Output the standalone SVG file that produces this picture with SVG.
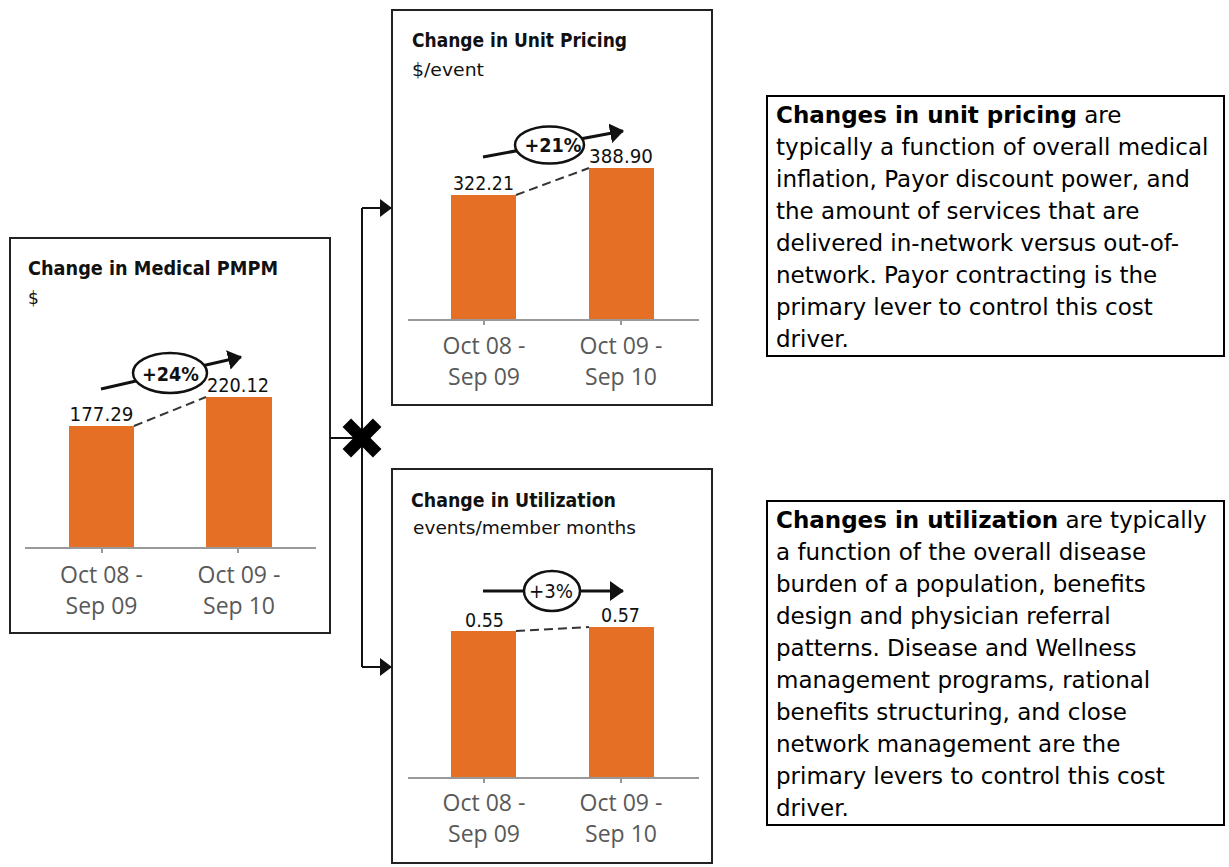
<svg xmlns="http://www.w3.org/2000/svg" width="1229" height="867" viewBox="0 0 1229 867">
<style>
.box{fill:#fff;stroke:#222;stroke-width:2}
.title{font-family:"DejaVu Sans",sans-serif;font-weight:bold;font-size:19.5px;fill:#111}
.sub{font-family:"DejaVu Sans",sans-serif;font-size:17px;fill:#111}
.bar{fill:#E56F24}
.axis{stroke:#999;stroke-width:2;fill:none}
.val{font-family:"DejaVu Sans",sans-serif;font-size:19.5px;fill:#111;text-anchor:middle}
.cat{font-family:"Open Sans",sans-serif;font-size:23px;fill:#595959;text-anchor:middle}
.dash{stroke:#333;stroke-width:2;stroke-dasharray:9 5;fill:none}
.trend{stroke:#111;stroke-width:3;fill:none}
.pill{fill:#fff;stroke:#111;stroke-width:2.5}
.pct{font-family:"DejaVu Sans",sans-serif;font-size:20px;fill:#111;text-anchor:middle}
.note{font-family:"DejaVu Sans",sans-serif;font-size:23px;fill:#000}
.nbox{fill:#fff;stroke:#000;stroke-width:2}
.conn{stroke:#111;stroke-width:2;fill:none}
</style>
<defs>
<marker id="tri" viewBox="0 0 14 20" refX="13" refY="10" markerWidth="14" markerHeight="20" markerUnits="userSpaceOnUse" orient="auto">
<path d="M0,0 L14,10 L0,20 Z" fill="#111"/>
</marker>
<marker id="carr" viewBox="0 0 12 18" refX="11" refY="9" markerWidth="12" markerHeight="18" markerUnits="userSpaceOnUse" orient="auto">
<path d="M0,0 L12,9 L0,18 Z" fill="#111"/>
</marker>
</defs>

<g id="node-medical-pmpm">
<rect class="box" x="10" y="238" width="320" height="395"/>
<text class="title" x="28" y="275" textLength="250" lengthAdjust="spacingAndGlyphs">Change in Medical PMPM</text>
<text class="sub" x="28" y="304">$</text>
<rect class="bar" x="69" y="426" width="65" height="122"/>
<rect class="bar" x="206" y="397" width="66" height="151"/>
<line class="axis" x1="25" y1="548" x2="316" y2="548"/>
<line class="axis" x1="102" y1="548" x2="102" y2="553"/>
<line class="axis" x1="238" y1="548" x2="238" y2="553"/>
<line class="dash" x1="134" y1="426" x2="206" y2="397"/>
<text class="val" x="101.5" y="421" textLength="64" lengthAdjust="spacingAndGlyphs">177.29</text>
<text class="val" x="238" y="392" textLength="62" lengthAdjust="spacingAndGlyphs">220.12</text>
<path class="trend" d="M101,389 L241,357" marker-end="url(#tri)"/>
<ellipse class="pill" cx="170" cy="373" rx="37" ry="20"/>
<text class="pct" x="170.5" y="380.5" font-weight="bold" textLength="57" lengthAdjust="spacingAndGlyphs">+24%</text>
<text class="cat" x="101.5" y="583">Oct 08 -</text>
<text class="cat" x="101.5" y="614">Sep 09</text>
<text class="cat" x="239" y="583">Oct 09 -</text>
<text class="cat" x="239" y="614">Sep 10</text>
</g>

<g id="node-unit-pricing">
<rect class="box" x="392" y="10" width="320" height="395"/>
<text class="title" x="412" y="47" textLength="215" lengthAdjust="spacingAndGlyphs">Change in Unit Pricing</text>
<text class="sub" x="412" y="76" textLength="72" lengthAdjust="spacingAndGlyphs">$/event</text>
<rect class="bar" x="451" y="195" width="65" height="125"/>
<rect class="bar" x="589" y="168" width="65" height="152"/>
<line class="axis" x1="408" y1="320" x2="699" y2="320"/>
<line class="axis" x1="484" y1="320" x2="484" y2="325"/>
<line class="axis" x1="621" y1="320" x2="621" y2="325"/>
<line class="dash" x1="516" y1="195" x2="589" y2="168"/>
<text class="val" x="483.5" y="190" textLength="61" lengthAdjust="spacingAndGlyphs">322.21</text>
<text class="val" x="621" y="163" textLength="64" lengthAdjust="spacingAndGlyphs">388.90</text>
<path class="trend" d="M483,157 L623,131" marker-end="url(#tri)"/>
<ellipse class="pill" cx="549.5" cy="145" rx="34.5" ry="18.5"/>
<text class="pct" x="553" y="152" font-weight="bold" textLength="57" lengthAdjust="spacingAndGlyphs">+21%</text>
<text class="cat" x="484" y="354">Oct 08 -</text>
<text class="cat" x="484" y="385">Sep 09</text>
<text class="cat" x="621" y="354">Oct 09 -</text>
<text class="cat" x="621" y="385">Sep 10</text>
</g>

<g id="node-utilization">
<rect class="box" x="392" y="469" width="320" height="394"/>
<text class="title" x="411" y="507" textLength="205" lengthAdjust="spacingAndGlyphs">Change in Utilization</text>
<text class="sub" x="413" y="534" textLength="223" lengthAdjust="spacingAndGlyphs">events/member months</text>
<rect class="bar" x="451" y="631" width="65" height="147"/>
<rect class="bar" x="589" y="627" width="65" height="151"/>
<line class="axis" x1="408" y1="778" x2="699" y2="778"/>
<line class="axis" x1="484" y1="778" x2="484" y2="783"/>
<line class="axis" x1="621" y1="778" x2="621" y2="783"/>
<line class="dash" x1="516" y1="631" x2="589" y2="627"/>
<text class="val" x="484.5" y="627" textLength="39" lengthAdjust="spacingAndGlyphs">0.55</text>
<text class="val" x="620.5" y="622" textLength="39" lengthAdjust="spacingAndGlyphs">0.57</text>
<path class="trend" d="M483,591 L623,591" marker-end="url(#tri)"/>
<ellipse class="pill" cx="552" cy="591" rx="28" ry="20"/>
<text class="pct" x="551" y="598" textLength="44" lengthAdjust="spacingAndGlyphs">+3%</text>
<text class="cat" x="484" y="811">Oct 08 -</text>
<text class="cat" x="484" y="842">Sep 09</text>
<text class="cat" x="621" y="811">Oct 09 -</text>
<text class="cat" x="621" y="842">Sep 10</text>
</g>

<g id="note-unit-pricing">
<rect class="nbox" x="767" y="96" width="457" height="260"/>
<text class="note" x="776" y="123"><tspan font-weight="bold">Changes in unit pricing</tspan> are</text>
<text class="note" x="776" y="155">typically a function of overall medical</text>
<text class="note" x="776" y="187">inflation, Payor discount power, and</text>
<text class="note" x="776" y="219">the amount of services that are</text>
<text class="note" x="776" y="251">delivered in-network versus out-of-</text>
<text class="note" x="776" y="283">network. Payor contracting is the</text>
<text class="note" x="776" y="315">primary lever to control this cost</text>
<text class="note" x="776" y="347">driver.</text>
</g>

<g id="note-utilization">
<rect class="nbox" x="767" y="501" width="457" height="324"/>
<text class="note" x="776" y="528"><tspan font-weight="bold">Changes in utilization</tspan> are typically</text>
<text class="note" x="776" y="560">a function of the overall disease</text>
<text class="note" x="776" y="592">burden of a population, benefits</text>
<text class="note" x="776" y="624">design and physician referral</text>
<text class="note" x="776" y="656">patterns. Disease and Wellness</text>
<text class="note" x="776" y="688">management programs, rational</text>
<text class="note" x="776" y="720">benefits structuring, and close</text>
<text class="note" x="776" y="752">network management are the</text>
<text class="note" x="776" y="784">primary levers to control this cost</text>
<text class="note" x="776" y="816">driver.</text>
</g>

<g id="connectors">
<path class="conn" d="M330,438 H362"/>
<path class="conn" d="M362,208 V667"/>
<path class="conn" d="M362,208 H391" marker-end="url(#carr)"/>
<path class="conn" d="M362,667 H391" marker-end="url(#carr)"/>
<g id="multiply-sign" stroke="#000" stroke-width="12" stroke-linecap="butt">
<line x1="346.8" y1="422.8" x2="377.2" y2="453.2"/>
<line x1="377.2" y1="422.8" x2="346.8" y2="453.2"/>
</g>
</g>
</svg>
